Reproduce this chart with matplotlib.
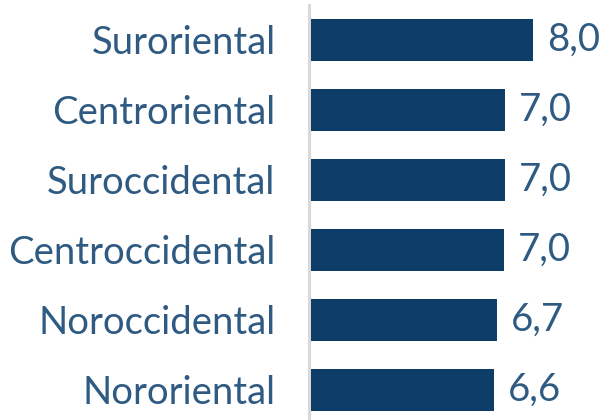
import matplotlib
matplotlib.use("Agg")
import matplotlib.pyplot as plt

categories = ["Nororiental", "Noroccidental", "Centroccidental", "Suroccidental", "Centroriental", "Suroriental"]
values = [6.6, 6.7, 6.95, 7.0, 7.0, 8.0]

BAR = "#0d3d68"
TXT = "#2f5a82"
FONT = "Lato"

fig = plt.figure(figsize=(6.07, 4.2), dpi=100)
ax = fig.add_axes([311/607, 0, 296/607, 415/420])
ypos = list(range(len(categories)))
bars = ax.barh(ypos, values, height=0.614, color=BAR, zorder=3)
ax.set_xlim(0, 296/27.75)
ax.set_ylim(-30/70, 5.5)
for s in ["top", "right", "bottom"]:
    ax.spines[s].set_visible(False)
ax.spines["left"].set_color("#d9d9d9")
ax.spines["left"].set_linewidth(2.2)
ax.spines["left"].set_position(("outward", 1.5))
ax.set_xticks([])
ax.set_yticks(ypos)
ax.set_yticklabels(categories, fontsize=27.5, color=TXT, family=FONT)
ax.tick_params(axis="y", length=0, pad=24)
for y, v in zip(ypos, values):
    ax.annotate(f"{v:.1f}".replace(".", ","), (v, y), xytext=(10, 0), textcoords="offset points",
                va="center", ha="left", fontsize=27.5, color=TXT, family=FONT)
fig.savefig("out.png", dpi=100)
